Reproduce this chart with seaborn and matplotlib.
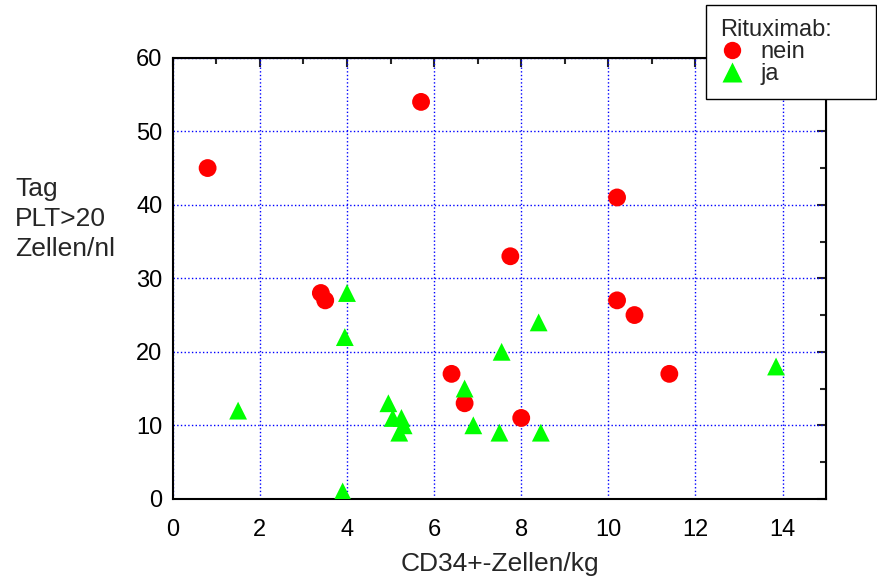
import seaborn as sns
import matplotlib.pyplot as plt
import pandas as pd
from matplotlib.ticker import MultipleLocator
from matplotlib.lines import Line2D

# Werte
nein_x = [0.8, 5.7, 10.2, 7.75, 3.4, 3.5, 10.2, 10.6, 6.4, 6.7, 8.0, 11.4]
nein_y = [45, 54, 41, 33, 28, 27, 27, 25, 17, 13, 11, 17]
ja_x = [4.0, 3.95, 1.5, 3.9, 8.4, 7.55, 6.7, 4.95, 5.05, 5.25, 5.3, 5.2, 6.9, 7.5, 8.45, 13.85]
ja_y = [28, 22, 12, 1, 24, 20, 15, 13, 11, 11, 10, 9, 10, 9, 9, 18]
gruppen = ["nein", "ja"]

df = pd.DataFrame({
    "cd34": nein_x + ja_x,
    "tag": nein_y + ja_y,
    "rituximab": ["nein"] * len(nein_x) + ["ja"] * len(ja_x),
})

sns.set_style("white")
plt.rcParams["font.family"] = ["Liberation Sans", "DejaVu Sans"]

fig = plt.figure(figsize=(8.77, 5.78), dpi=100)
ax = fig.add_axes([0.197, 0.137, 0.745, 0.763])

farben = {"nein": "#ff0000", "ja": "#00ff00"}
marker = {"nein": "o", "ja": "^"}
sns.scatterplot(data=df, x="cd34", y="tag", hue="rituximab", style="rituximab",
                hue_order=gruppen, style_order=gruppen, palette=farben, markers=marker,
                s=165, edgecolor="none", legend=False, ax=ax, zorder=3)

ax.set_xlim(0, 15)
ax.set_ylim(0, 60)
ax.xaxis.set_major_locator(MultipleLocator(2))
ax.xaxis.set_minor_locator(MultipleLocator(1))
ax.yaxis.set_major_locator(MultipleLocator(10))
ax.yaxis.set_minor_locator(MultipleLocator(5))
ax.grid(True, which="major", color="blue", linestyle=":", linewidth=1)

for sp in ax.spines.values():
    sp.set_linewidth(1.5)
    sp.set_color("black")

ax.tick_params(which="major", direction="out", length=6.5, width=1.5, labelsize=17, colors="black")
ax.tick_params(which="minor", direction="out", length=4, width=1.5)
ax.tick_params(axis="x", which="major", pad=8)
ax.tick_params(axis="y", which="major", pad=1)

# Ticks oben und rechts nach innen
top = ax.secondary_xaxis("top")
top.xaxis.set_major_locator(MultipleLocator(2))
top.xaxis.set_minor_locator(MultipleLocator(1))
top.tick_params(which="major", direction="in", length=6.5, width=1.5, labeltop=False)
top.tick_params(which="minor", direction="in", length=4, width=1.5)
right = ax.secondary_yaxis("right")
right.yaxis.set_major_locator(MultipleLocator(10))
right.yaxis.set_minor_locator(MultipleLocator(5))
right.tick_params(which="major", direction="in", length=6.5, width=1.5, labelright=False)
right.tick_params(which="minor", direction="in", length=4, width=1.5)

ax.set_xlabel("CD34+-Zellen/kg", fontsize=19, labelpad=8)
ax.set_ylabel("")
fig.text(0.017, 0.621, "Tag\nPLT>20\nZellen/nl", ha="left", va="center",
         fontsize=19, linespacing=1.3)

handles = [
    Line2D([], [], marker="o", color="none", markerfacecolor=farben["nein"],
           markeredgecolor="none", markersize=12.5, label="nein"),
    Line2D([], [], marker="^", color="none", markerfacecolor=farben["ja"],
           markeredgecolor="none", markersize=14, label="ja"),
]
leg = ax.legend(handles=handles, title="Rituximab:", loc="upper left",
                bbox_to_anchor=(706 / 877, 1 - 103 / 578, 170 / 877, 98 / 578),
                bbox_transform=fig.transFigure, mode="expand",
                fancybox=False, framealpha=1, edgecolor="black", fontsize=17,
                title_fontsize=17, alignment="left", handlelength=1.0,
                handletextpad=0.7, labelspacing=0.0, borderaxespad=0,
                borderpad=0.6)
leg.get_frame().set_linewidth(1)

fig.savefig("out.png", dpi=100)
